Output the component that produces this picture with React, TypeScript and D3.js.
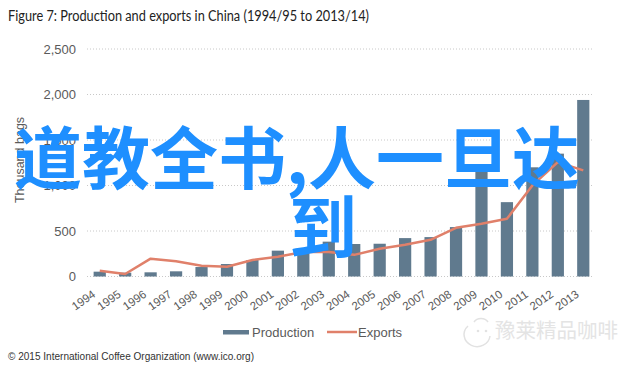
import * as d3 from "d3";

// values in thousand bags
const years = [
  "1994", "1995", "1996", "1997", "1998", "1999", "2000", "2001", "2002", "2003",
  "2004", "2005", "2006", "2007", "2008", "2009", "2010", "2011", "2012", "2013",
];
const production = [
  53, 42, 46, 57, 104, 137, 181, 284, 292, 383,
  357, 360, 422, 433, 543, 1170, 817, 1200, 1350, 1940,
];
const exportsData = [
  64, 27, 196, 167, 119, 108, 181, 218, 270, 268,
  238, 305, 348, 403, 535, 579, 634, 1001, 1257, 1166,
];
const yTicks = [0, 500, 1000, 1500, 2000, 2500];

const W = 640;
const H = 366;
const margin = { top: 49, left: 87, right: 44, bottom: 89.5 };

const BAR = "#607a8e";
const LINE = "#e0806a";
const AXIS_FONT = "'Liberation Sans', Arial, sans-serif";

const App = () => {
  const x = d3
    .scaleBand<string>()
    .domain(years)
    .range([margin.left, W - margin.right])
    .paddingInner(0.52)
    .paddingOuter(0.26);

  const y = d3
    .scaleLinear()
    .domain([0, 2500])
    .range([H - margin.bottom, margin.top]);

  const cx = (yr: string) => (x(yr) || 0) + x.bandwidth() / 2;

  const line = d3
    .line<number>()
    .x((_, i) => cx(years[i]))
    .y((d) => y(d));

  const fmt = d3.format(",");

  return (
    <svg
      width={W}
      height={H}
      style={{ position: "absolute", left: 0, top: 0, background: "#fff" }}
    >
      {/* title */}
      <text
        x={8}
        y={21}
        fontFamily="Lato, 'Open Sans', sans-serif"
        fontSize={14.5}
        fill="#222"
        textLength={361}
        lengthAdjust="spacingAndGlyphs"
      >
        Figure 7: Production and exports in China (1994/95 to 2013/14)
      </text>

      {/* grid + y ticks */}
      {yTicks.map((t) => (
        <g key={t}>
          <line
            x1={margin.left}
            x2={W - margin.right - 2}
            y1={y(t)}
            y2={y(t)}
            stroke="#c8c8c8"
            strokeDasharray="1,2"
          />
          <text
            x={76}
            y={y(t)}
            dy="0.35em"
            textAnchor="end"
            fontFamily={AXIS_FONT}
            fontSize={13}
            fill="#5a5a5a"
          >
            {fmt(t)}
          </text>
        </g>
      ))}

      <text
        transform={`translate(24,160) rotate(-90)`}
        textAnchor="middle"
        fontFamily={AXIS_FONT}
        fontSize={12.5}
        fill="#5a5a5a"
      >
        Thousand bags
      </text>

      {/* bars */}
      {production.map((v, i) => (
        <rect
          key={years[i]}
          x={x(years[i])}
          y={y(v)}
          width={x.bandwidth()}
          height={y(0) - y(v)}
          fill={BAR}
        />
      ))}

      {/* exports line */}
      <path
        d={line(exportsData) || ""}
        fill="none"
        stroke={LINE}
        strokeWidth={2.5}
        strokeLinejoin="round"
      />

      {/* x tick labels */}
      {years.map((yr) => (
        <text
          key={yr}
          transform={`translate(${cx(yr) - 3.5},296) rotate(-35)`}
          textAnchor="end"
          fontFamily={AXIS_FONT}
          fontSize={11.5}
          fill="#5a5a5a"
        >
          {yr}
        </text>
      ))}

      {/* legend */}
      <rect x={223} y={330} width={26} height={4.5} fill={BAR} />
      <text x={252} y={336.5} fontFamily={AXIS_FONT} fontSize={13} fill="#5a5a5a">
        Production
      </text>
      <line x1={327} x2={357} y1={332} y2={332} stroke={LINE} strokeWidth={2.5} />
      <text x={358} y={336.5} fontFamily={AXIS_FONT} fontSize={13} fill="#5a5a5a">
        Exports
      </text>

      {/* watermark */}
      <g stroke="#e2e2e2" fill="none" strokeWidth={1.5}>
        <path d="M468,326 A13,12 0 1,0 490,336" />
        <path d="M474,322 A8,7 0 0,1 488,322" />
      </g>
      <circle cx={478} cy={331} r={1.3} fill="#e2e2e2" />
      <circle cx={486} cy={331} r={1.3} fill="#e2e2e2" />
      <text
        x={495}
        y={338}
        fontFamily="'Noto Sans CJK SC', sans-serif"
        fontSize={20.5}
        fill="#e4e4e4"
      >
        豫莱精品咖啡
      </text>

      {/* source */}
      <text
        x={8}
        y={360}
        fontFamily={AXIS_FONT}
        fontSize={11}
        fill="#333"
        textLength={246}
        lengthAdjust="spacingAndGlyphs"
      >
        © 2015 International Coffee Organization (www.ico.org)
      </text>

      {/* overlay caption */}
      <g
        fontFamily="'Noto Sans CJK SC', sans-serif"
        fontWeight="bold"
        fontSize={68}
        fill="#1e8fff"
      >
        <text x={14} y={184}>
          道教全书,人一旦达
        </text>
        <text x={289} y={253}>
          到
        </text>
      </g>
    </svg>
  );
};

export default App;
